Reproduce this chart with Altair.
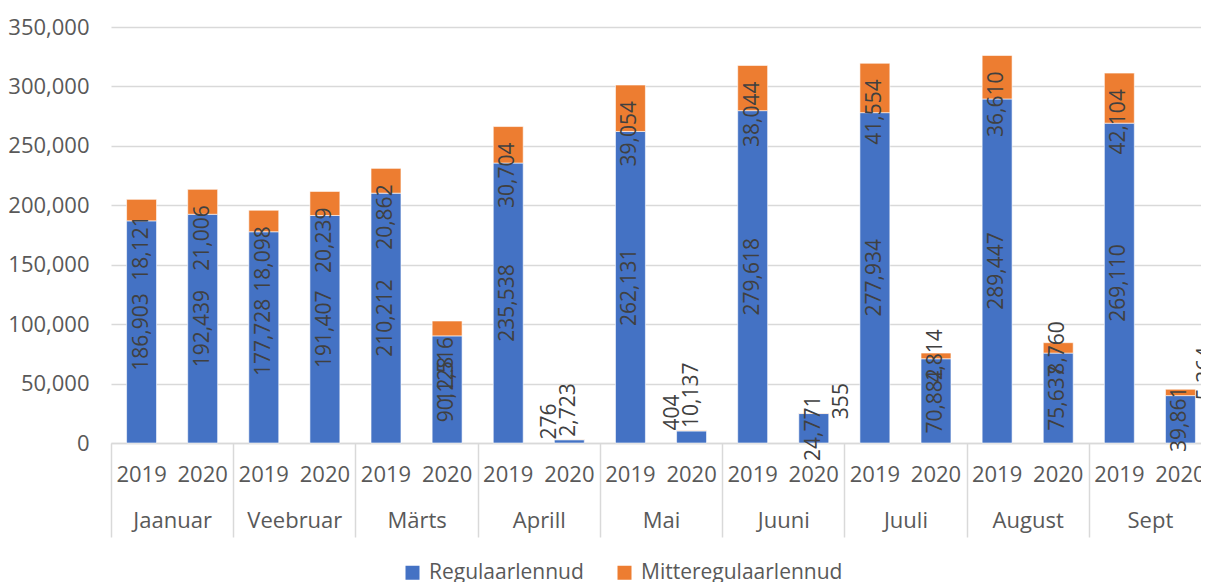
import altair as alt
import pandas as pd

months = ["Jaanuar", "Veebruar", "Märts", "Aprill", "Mai", "Juuni", "Juuli", "August", "Sept"]
years = ["2019", "2020"]
reg_2019 = [186903, 177728, 210212, 235538, 262131, 279618, 277934, 289447, 269110]
reg_2020 = [192439, 191407, 90128, 2723, 10137, 24771, 70882, 75637, 39861]
mit_2019 = [18121, 18098, 20862, 30704, 39054, 38044, 41554, 36610, 42104]
mit_2020 = [21006, 20239, 12516, 276, 404, 355, 4814, 8760, 5364]
series = ["Regulaarlennud", "Mitteregulaarlennud"]
colors = ["#4472c4", "#ed7d31"]
y_ticks = [0, 50000, 100000, 150000, 200000, 250000, 300000, 350000]

rows = []
for i, m in enumerate(months):
    for y, reg, mit in (("2019", reg_2019[i], mit_2019[i]), ("2020", reg_2020[i], mit_2020[i])):
        key = f"{m} {y}"
        rows.append(dict(month=m, year=y, key=key, series=series[0], order=0, v=reg, reg=reg))
        rows.append(dict(month=m, year=y, key=key, series=series[1], order=1, v=mit, reg=reg))
df = pd.DataFrame(rows)
keys = [f"{m} {y}" for m in months for y in years]

GRAY = "#595959"
LINE = "#d9d9d9"
LBL = "#404040"
FS = 22

x_key = alt.X(
    "key:N", sort=keys,
    scale=alt.Scale(paddingInner=0.51, paddingOuter=0.255),
    axis=alt.Axis(orient="bottom", title=None, labelExpr="split(datum.label, ' ')[1]",
                  labelAngle=0, ticks=False, domain=True, domainColor=LINE, domainWidth=1.5,
                  labelPadding=21, labelFontSize=FS, labelColor=GRAY, grid=False),
)
y_scale = alt.Scale(domain=[0, 350000], nice=False)
y_axis = alt.Axis(values=y_ticks, labelExpr="format(datum.value, ',')", title=None, domain=False, ticks=False,
                  labelPadding=22, gridColor=LINE, gridWidth=1.5, labelFontSize=FS, labelColor=GRAY)

base = alt.Chart(df).transform_stack(
    stack="v", groupby=["key"], as_=["y0", "y1"], sort=[alt.SortField("order")]
).transform_calculate(mid="(datum.y0 + datum.y1) / 2")

bars = base.mark_bar(stroke="white", strokeWidth=0.6).encode(
    x=x_key,
    y=alt.Y("y1:Q", scale=y_scale, axis=y_axis),
    y2="y0:Q",
    color=alt.Color("series:N", scale=alt.Scale(domain=series, range=colors),
                    legend=alt.Legend(orient="none", legendX=291, legendY=535, direction="horizontal",
                                      title=None, symbolType="square", symbolSize=196,
                                      symbolStrokeWidth=0, labelFontSize=21, labelColor=GRAY,
                                      labelLimit=400, columnPadding=30, labelOffset=6)),
)

txt = dict(angle=270, fontSize=21, color=LBL, baseline="middle")
text_enc = dict(x=x_key, text=alt.Text("v:Q", format=","))

reg_big = base.transform_filter("datum.order == 0 && datum.v >= 20000").mark_text(align="center", **txt).encode(
    y=alt.Y("mid:Q", scale=y_scale, axis=y_axis), **text_enc)
reg_small = base.transform_filter("datum.order == 0 && datum.v < 20000").mark_text(align="left", dx=3, **txt).encode(
    y=alt.Y("y1:Q", scale=y_scale, axis=y_axis), **text_enc)
mit_big = base.transform_filter("datum.order == 1 && datum.v >= 10000").mark_text(align="right", dx=-16, **txt).encode(
    y=alt.Y("y1:Q", scale=y_scale, axis=y_axis), **text_enc)
mit_mid = base.transform_filter("datum.order == 1 && datum.v >= 1000 && datum.v < 10000 && datum.reg >= 50000").mark_text(align="center", **txt).encode(
    y=alt.Y("mid:Q", scale=y_scale, axis=y_axis), **text_enc)
mit_mid_r = base.transform_filter("datum.order == 1 && datum.v >= 1000 && datum.v < 10000 && datum.reg < 50000").mark_text(align="left", dx=-11, dy=26, **txt).encode(
    y=alt.Y("y1:Q", scale=y_scale, axis=y_axis), **text_enc)
mit_tiny_l = base.transform_filter("datum.order == 1 && datum.v < 1000 && datum.reg < 20000").mark_text(align="left", dy=-19, **txt).encode(
    y=alt.Y("y1:Q", scale=y_scale, axis=y_axis), **text_enc)
mit_tiny_r = base.transform_filter("datum.order == 1 && datum.v < 1000 && datum.reg >= 20000").mark_text(align="left", dx=-6, dy=28, **txt).encode(
    y=alt.Y("y1:Q", scale=y_scale, axis=y_axis), **text_enc)

inner = alt.layer(bars, reg_big, reg_small, mit_big, mit_mid, mit_mid_r, mit_tiny_l, mit_tiny_r)

month_layer = alt.Chart(df).mark_point(opacity=0).encode(
    x=alt.X("month:N", sort=months, scale=alt.Scale(paddingInner=0, paddingOuter=0),
            axis=alt.Axis(orient="bottom", title=None, domain=False, ticks=True, tickBand="extent",
                          tickSize=94, tickColor=LINE, tickWidth=1.5, labelPadding=-27, labelAngle=0,
                          labelFontSize=FS, labelColor=GRAY, grid=False)),
    y=alt.value(0),
)

chart = alt.layer(inner, month_layer).resolve_scale(x="independent").properties(
    width=1100, height=416,
    padding={"left": 103, "top": 19, "right": -10, "bottom": 140},
    autosize=alt.AutoSizeParams(type="none"),
).configure(font="Open Sans").configure_view(stroke=None)

chart.save("out.html", embed_options={"renderer": "svg", "actions": False})
